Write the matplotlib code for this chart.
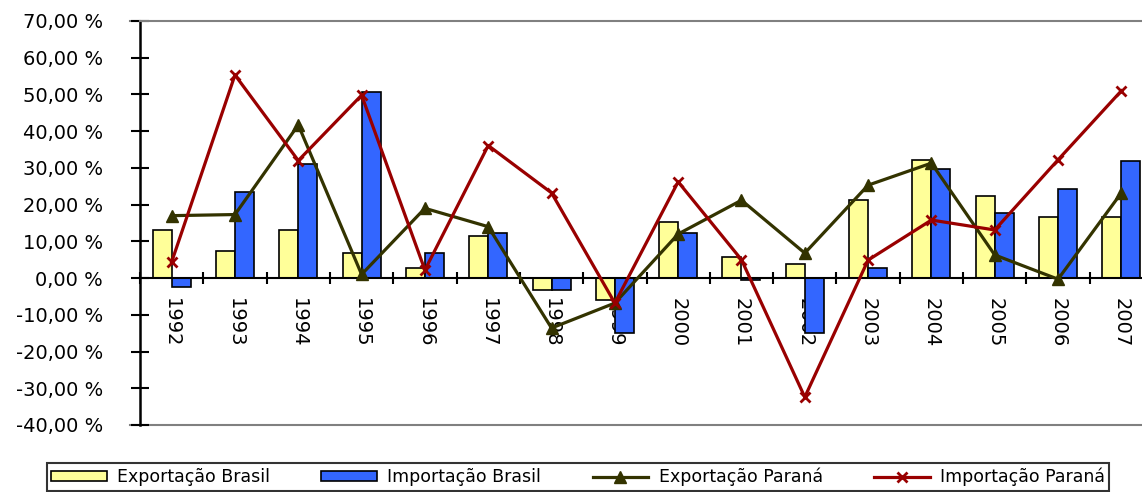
import matplotlib
matplotlib.use("Agg")
import matplotlib.pyplot as plt
import numpy as np
from matplotlib.ticker import FuncFormatter, FixedLocator

# Annual growth rates (%)
years = ["1992", "1993", "1994", "1995", "1996", "1997", "1998", "1999",
         "2000", "2001", "2002", "2003", "2004", "2005", "2006", "2007"]
exportacao_brasil = [13.0, 7.5, 13.0, 6.8, 2.8, 11.4, -3.3, -6.0,
                     15.2, 5.7, 3.8, 21.3, 32.2, 22.3, 16.5, 16.5]
importacao_brasil = [-2.5, 23.4, 31.0, 50.6, 6.8, 12.3, -3.3, -15.0,
                     12.3, -0.5, -15.0, 2.7, 29.7, 17.7, 24.2, 32.0]
exportacao_parana = [17.0, 17.3, 41.7, 1.0, 19.0, 14.0, -13.6, -6.8,
                     12.0, 21.2, 6.8, 25.3, 31.3, 6.3, -0.3, 23.2]
importacao_parana = [4.4, 55.3, 32.0, 49.8, 2.2, 36.1, 23.2, -6.8,
                     26.2, 5.0, -32.4, 4.9, 15.8, 13.1, 32.2, 51.0]
y_ticks = [-40, -30, -20, -10, 0, 10, 20, 30, 40, 50, 60, 70]

plt.rcParams['font.family'] = ['DejaVu Sans']

W, H = 1142, 492
fig = plt.figure(figsize=(W / 100, H / 100), dpi=100)
fig.patch.set_facecolor("white")

ax = fig.add_axes([140 / W, 1 - 425 / H, (1153 - 140) / W, 404 / H])
ax.set_axisbelow(True)

x = np.arange(len(years))
bw = 0.3
b1 = ax.bar(x - bw / 2, exportacao_brasil, width=bw, color="#FFFF99",
            edgecolor="black", linewidth=1.2, label="Exportação Brasil", zorder=1)
b2 = ax.bar(x + bw / 2, importacao_brasil, width=bw, color="#3366FF",
            edgecolor="black", linewidth=1.2, label="Importação Brasil", zorder=1)
l1, = ax.plot(x, exportacao_parana, color="#333300", linewidth=2.3, marker="^",
              markersize=8, label="Exportação Paraná", zorder=3)
l2, = ax.plot(x, importacao_parana, color="#990000", linewidth=2.3, marker="x",
              markersize=6.5, markeredgewidth=2, label="Importação Paraná", zorder=4)

ax.set_xlim(-0.5, len(years) - 0.5)
ax.set_ylim(-40, 70)

# y axis
ax.yaxis.set_major_locator(FixedLocator(y_ticks))
ax.yaxis.set_major_formatter(FuncFormatter(lambda v, p: f"{v:.2f} %".replace(".", ",")))
ax.tick_params(axis="y", direction="inout", length=13, width=1.5,
               pad=20, labelsize=14, colors="black")

# x axis through zero, ticks at category boundaries, labels at centers
ax.spines["bottom"].set_position(("data", 0))
ax.spines["bottom"].set_color("black")
ax.spines["bottom"].set_linewidth(1.5)
ax.set_xticks(np.arange(len(years) + 1) - 0.5)
ax.set_xticklabels([])
ax.tick_params(axis="x", which="major", direction="inout", length=9, width=1.5)
ax.set_xticks(x, minor=True)
ax.set_xticklabels(years, minor=True, rotation=270, fontsize=14)
ax.tick_params(axis="x", which="minor", length=0, pad=14)

ax.spines["left"].set_linewidth(1.8)
ax.spines["left"].set_color("black")
ax.spines["top"].set_color("#808080")
ax.spines["top"].set_linewidth(1.5)
ax.spines["right"].set_visible(False)
ax.plot([-0.66, len(years) - 0.5], [-40, -40], color="#808080",
        linewidth=1.5, clip_on=False, zorder=0)
ax.plot([-0.66, -0.5], [70, 70], color="#808080",
        linewidth=1.5, clip_on=False, zorder=0)

leg = fig.legend(handles=[b1, b2, l1, l2], loc="center", ncol=4, mode="expand",
                 bbox_to_anchor=(38 / W, 1 - 491 / H, (1118 - 38) / W, 28 / H),
                 fontsize=12.5, frameon=True, fancybox=False,
                 handlelength=3.2, handleheight=0.5,
                 borderpad=0.25, handletextpad=0.6, columnspacing=0.8)
leg.get_frame().set_edgecolor("black")
leg.get_frame().set_linewidth(1.5)

fig.savefig("out.png", dpi=100, facecolor="white")
